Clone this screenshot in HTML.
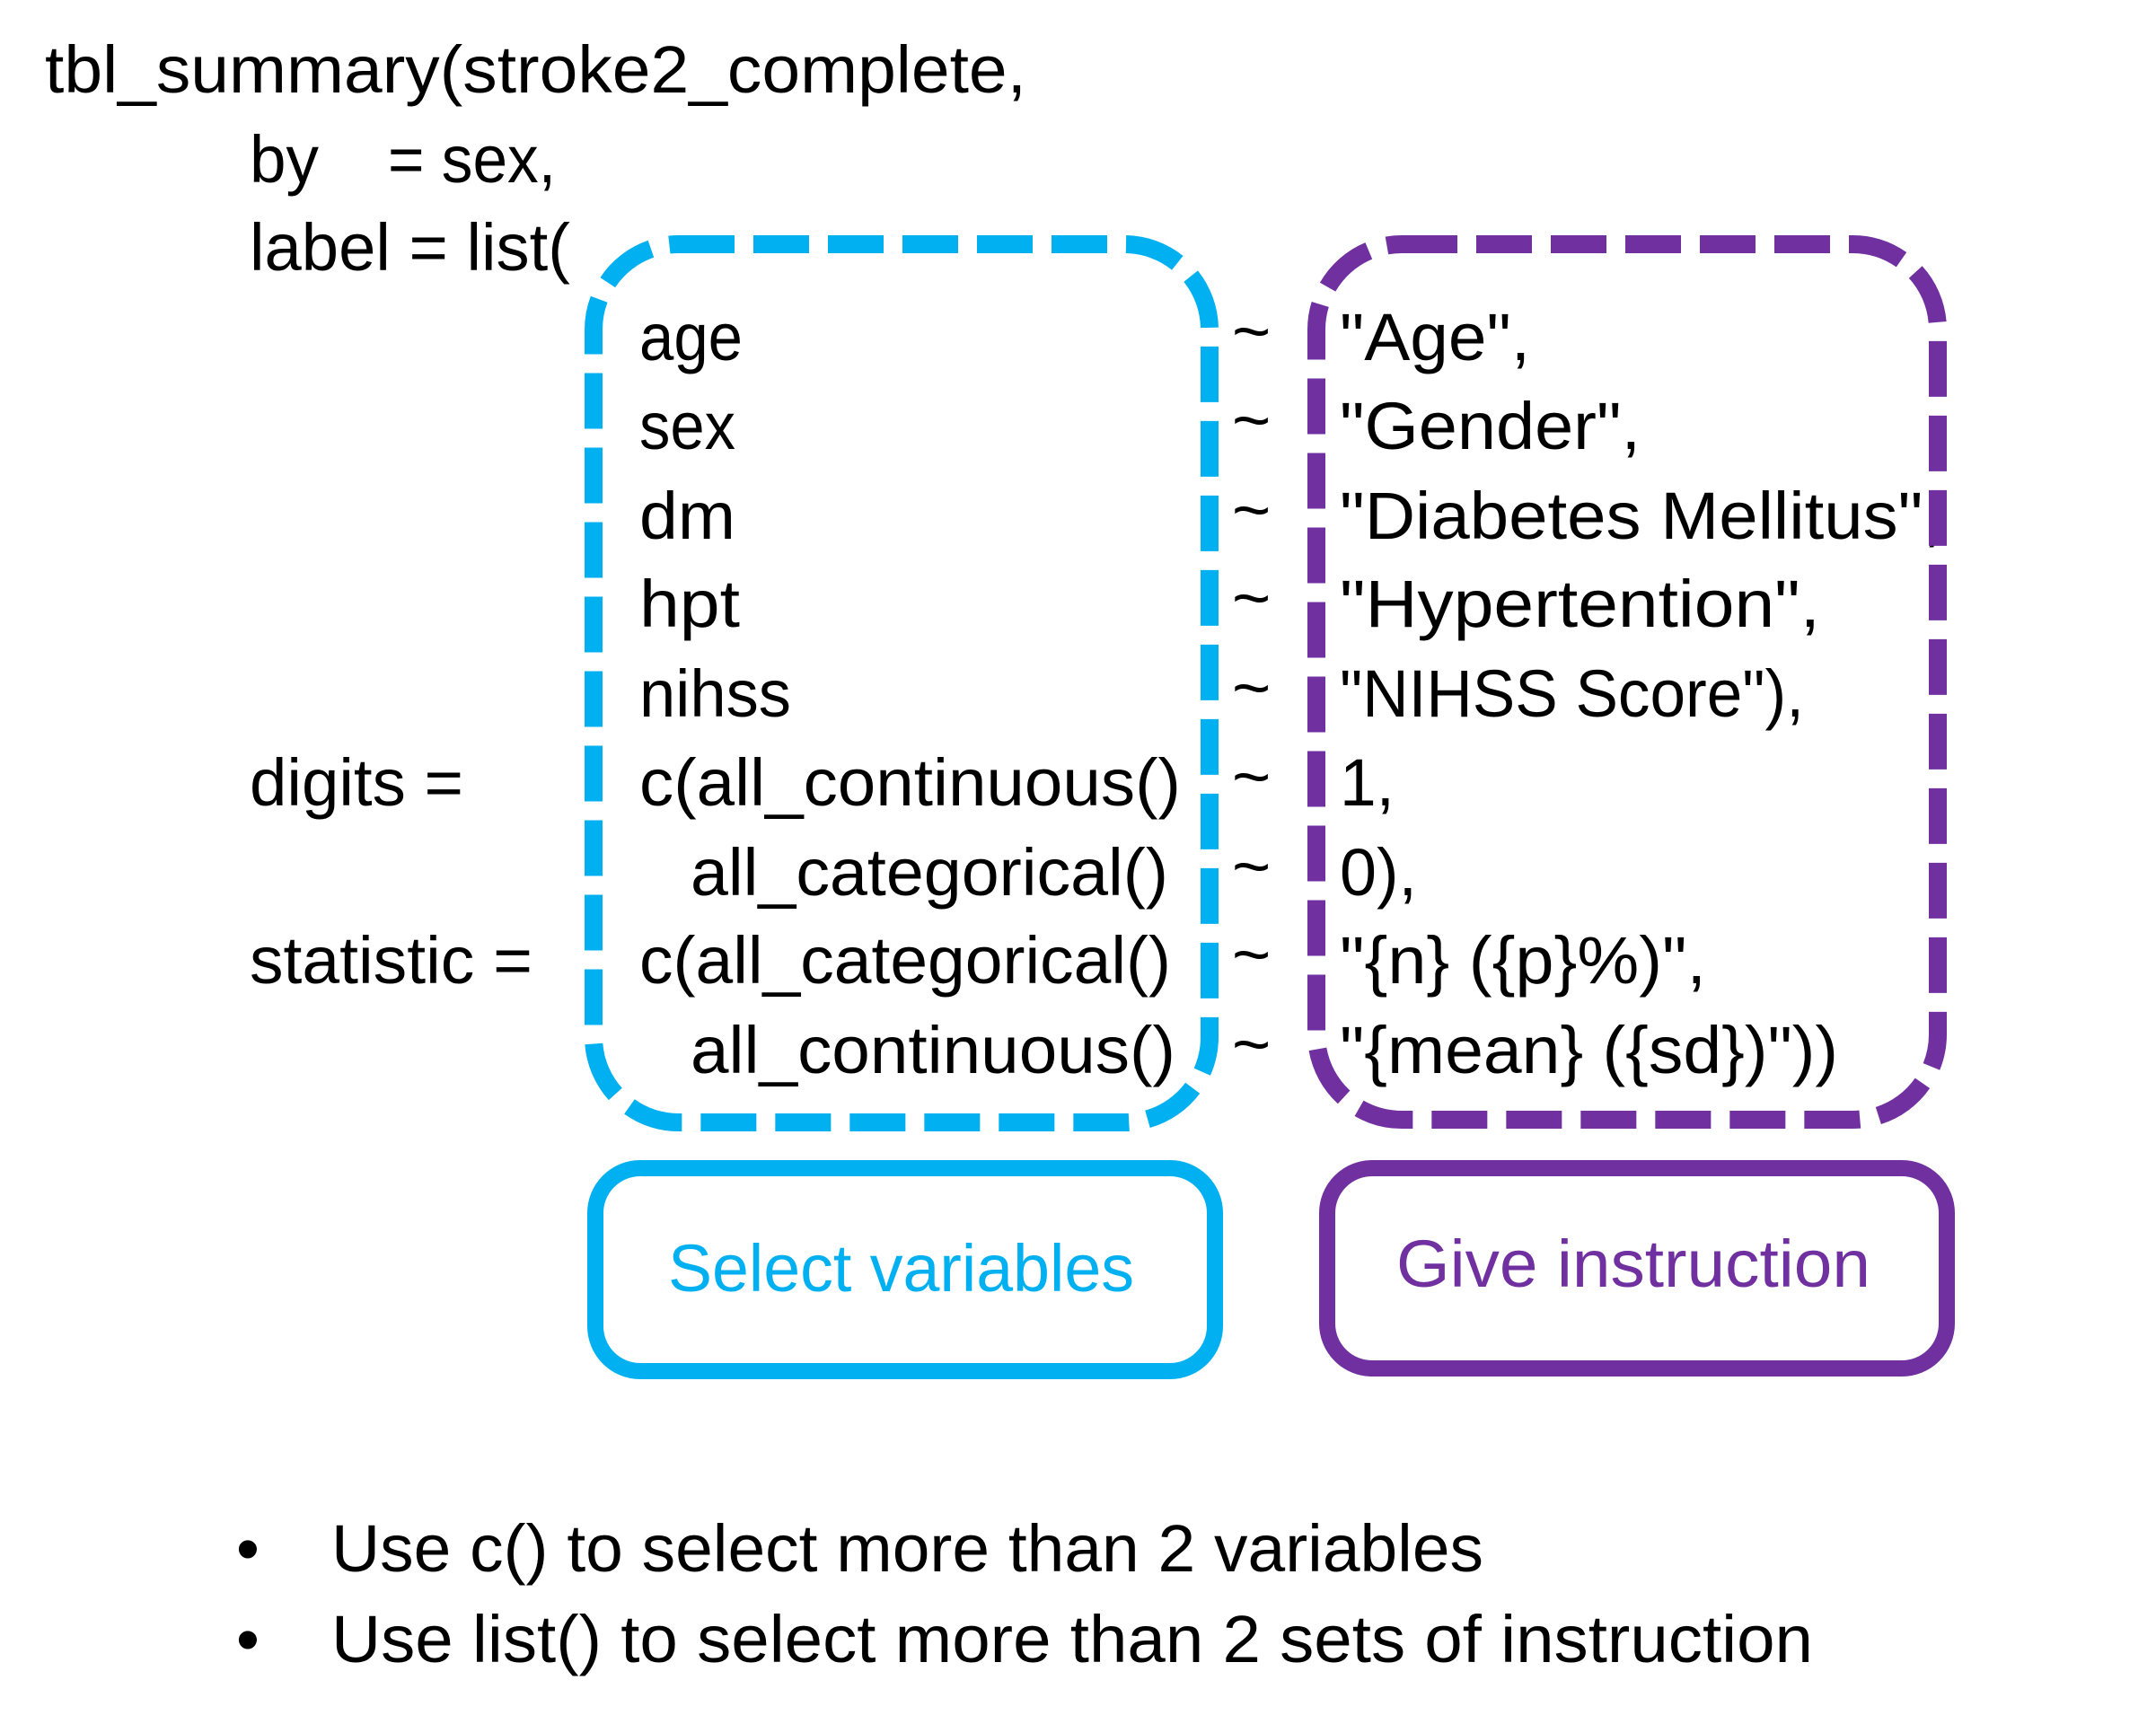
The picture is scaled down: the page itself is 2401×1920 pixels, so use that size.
<!DOCTYPE html>
<html><head><meta charset="utf-8"><style>
html,body{margin:0;padding:0;background:#fff;}
svg{display:block;}
text{font-family:"Liberation Sans",sans-serif;font-size:74px;fill:#000;}
</style></head><body>
<svg width="2401" height="1920" viewBox="0 0 2401 1920" xmlns="http://www.w3.org/2000/svg">
<g transform="translate(-4,-2)">
<text x="54" y="105" textLength="1093" lengthAdjust="spacingAndGlyphs">tbl_summary(stroke2_complete,</text>
<text x="282" y="205" textLength="77" lengthAdjust="spacingAndGlyphs">by</text>
<text x="436" y="205" textLength="187" lengthAdjust="spacingAndGlyphs">= sex,</text>
<text x="282" y="303" textLength="357" lengthAdjust="spacingAndGlyphs">label = list(</text>
<text x="716" y="403" textLength="115" lengthAdjust="spacingAndGlyphs">age</text>
<text x="716" y="502" textLength="107" lengthAdjust="spacingAndGlyphs">sex</text>
<text x="716" y="602" textLength="107" lengthAdjust="spacingAndGlyphs">dm</text>
<text x="716" y="700" textLength="112" lengthAdjust="spacingAndGlyphs">hpt</text>
<text x="716" y="800" textLength="169" lengthAdjust="spacingAndGlyphs">nihss</text>
<text x="282" y="899" textLength="238" lengthAdjust="spacingAndGlyphs">digits =</text>
<text x="716" y="899" textLength="603" lengthAdjust="spacingAndGlyphs">c(all_continuous()</text>
<text x="773" y="999" textLength="532" lengthAdjust="spacingAndGlyphs">all_categorical()</text>
<text x="282" y="1097" textLength="315" lengthAdjust="spacingAndGlyphs">statistic =</text>
<text x="716" y="1097" textLength="592" lengthAdjust="spacingAndGlyphs">c(all_categorical()</text>
<text x="773" y="1197" textLength="540" lengthAdjust="spacingAndGlyphs">all_continuous()</text>
<g>
<text x="1376" y="396">~</text><text x="1376" y="495">~</text><text x="1376" y="595">~</text>
<text x="1376" y="693">~</text><text x="1376" y="793">~</text><text x="1376" y="892">~</text>
<text x="1376" y="992">~</text><text x="1376" y="1090">~</text><text x="1376" y="1190">~</text>
</g>
<text x="1496" y="403" textLength="212" lengthAdjust="spacingAndGlyphs">"Age",</text>
<text x="1496" y="502" textLength="335" lengthAdjust="spacingAndGlyphs">"Gender",</text>
<text x="1496" y="602" textLength="671" lengthAdjust="spacingAndGlyphs">"Diabetes Mellitus",</text>
<text x="1496" y="700" textLength="535" lengthAdjust="spacingAndGlyphs">"Hypertention",</text>
<text x="1496" y="800" textLength="517" lengthAdjust="spacingAndGlyphs">"NIHSS Score"),</text>
<text x="1496" y="899" textLength="61" lengthAdjust="spacingAndGlyphs">1,</text>
<text x="1496" y="999" textLength="86" lengthAdjust="spacingAndGlyphs">0),</text>
<text x="1496" y="1097" textLength="408" lengthAdjust="spacingAndGlyphs">"{n} ({p}%)",</text>
<text x="1496" y="1197" textLength="555" lengthAdjust="spacingAndGlyphs">"{mean} ({sd})"))</text>
</g>
<rect x="661" y="272" width="686" height="978" rx="95" ry="95" fill="none" stroke="#00B0F0" stroke-width="20" stroke-dasharray="62 21"/>
<rect x="1466" y="272" width="692" height="975" rx="95" ry="95" fill="none" stroke="#7030A0" stroke-width="20" stroke-dasharray="62 21"/>
<rect x="663" y="1301" width="690" height="226" rx="50" ry="50" fill="none" stroke="#00B0F0" stroke-width="18"/>
<rect x="1478" y="1301" width="690" height="223" rx="50" ry="50" fill="none" stroke="#7030A0" stroke-width="18"/>
<text x="744" y="1438" textLength="519" lengthAdjust="spacingAndGlyphs" style="fill:#00B0F0">Select variables</text>
<text x="1555" y="1433" textLength="528" lengthAdjust="spacingAndGlyphs" style="fill:#7030A0">Give instruction</text>
<text x="263" y="1750">•</text>
<text x="369" y="1750" textLength="1283" lengthAdjust="spacingAndGlyphs">Use c() to select more than 2 variables</text>
<text x="263" y="1851">•</text>
<text x="369" y="1851" textLength="1650" lengthAdjust="spacingAndGlyphs">Use list() to select more than 2 sets of instruction</text>
</svg>
</body></html>
